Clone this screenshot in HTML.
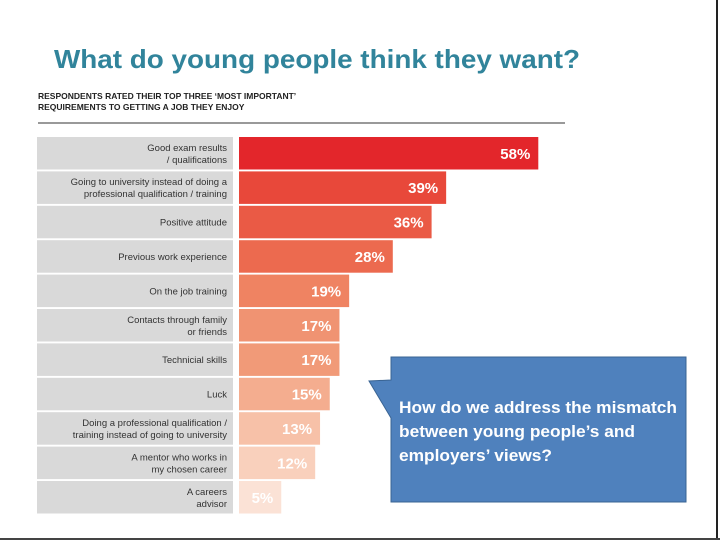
<!DOCTYPE html>
<html><head><meta charset="utf-8"><style>
body{margin:0;width:720px;height:540px;background:#fff;overflow:hidden;font-family:"Liberation Sans",sans-serif}
svg{display:block}
</style></head><body>
<svg id="c" width="720" height="540">
<line x1="717" y1="0" x2="717" y2="540" stroke="#222" stroke-width="2"/>
<line x1="0" y1="539" x2="720" y2="539" stroke="#444" stroke-width="2"/>
<text x="54" y="68" font-size="26" font-weight="bold" fill="#31849b" textLength="526" lengthAdjust="spacingAndGlyphs">What do young people think they want?</text>
<text x="38" y="99" font-size="8.5" font-weight="bold" fill="#222">RESPONDENTS RATED THEIR TOP THREE ‘MOST IMPORTANT’</text>
<text x="38" y="110" font-size="8.5" font-weight="bold" fill="#222">REQUIREMENTS TO GETTING A JOB THEY ENJOY</text>
<line x1="38" y1="123" x2="565" y2="123" stroke="#333" stroke-width="1"/>
<g id="rows"></g>
<g>
<path d="M391,357 H686 V502 H391 V418 L369,381 L391,380 Z" fill="#4f81bd" stroke="#3a6493" stroke-width="1"/>
<text font-size="16.5" font-weight="bold" fill="#fff"><tspan x="399" y="413" textLength="278" lengthAdjust="spacingAndGlyphs">How do we address the mismatch</tspan><tspan x="399" y="437" textLength="236" lengthAdjust="spacingAndGlyphs">between young people’s and</tspan><tspan x="399" y="461" textLength="153" lengthAdjust="spacingAndGlyphs">employers’ views?</tspan></text>
</g>
</svg>
<script>
const categories=[["Good exam results","/ qualifications"],["Going to university instead of doing a","professional qualification / training"],["Positive attitude"],["Previous work experience"],["On the job training"],["Contacts through family","or friends"],["Technicial skills"],["Luck"],["Doing a professional qualification /","training instead of going to university"],["A mentor who works in","my chosen career"],["A careers","advisor"]];
const values=[58,39,36,28,19,17,17,15,13,12,5];
const colors=["#e3262b","#e8483a","#ea5a45","#ec6a4f","#ef8362","#f09372","#f19a78","#f4ad8f","#f7c1a8","#f9d0bc","#fbe2d6"];
const NS="http://www.w3.org/2000/svg";
const g=document.getElementById("rows");
const y0=137,pitch=34.4,rh=32.5,bx=239;
function xw(v){return 18+4.85*v;}
function yr(i){return y0+i*pitch;}
function mk(t,a){const e=document.createElementNS(NS,t);for(const k in a)e.setAttribute(k,a[k]);return e;}
categories.forEach((c,i)=>{
 const y=yr(i);
 const lb=mk("rect",{x:37,y:y,width:196,height:rh,fill:"#d9d9d9"});
 
 
 g.appendChild(lb);
 const t=mk("text",{"text-anchor":"end","font-size":"9.5",fill:"#333"});
 
 
 const cy=y+rh/2;
 c.forEach((s,j)=>{const ts=mk("tspan",{x:227,y:cy+3.5+(j-(c.length-1)/2)*12});ts.textContent=s;t.appendChild(ts);});
 g.appendChild(t);
 const w=xw(values[i]);
 const b=mk("rect",{x:bx,y:y,width:w,height:rh,fill:colors[i]});
 
 
 g.appendChild(b);
 const v=mk("text",{x:bx+w-8,y:cy+5.5,"text-anchor":"end","font-size":"15","font-weight":"bold",fill:"#fff"});
 
 
 v.textContent=values[i]+"%";
 g.appendChild(v);
});
</script>
</body></html>
